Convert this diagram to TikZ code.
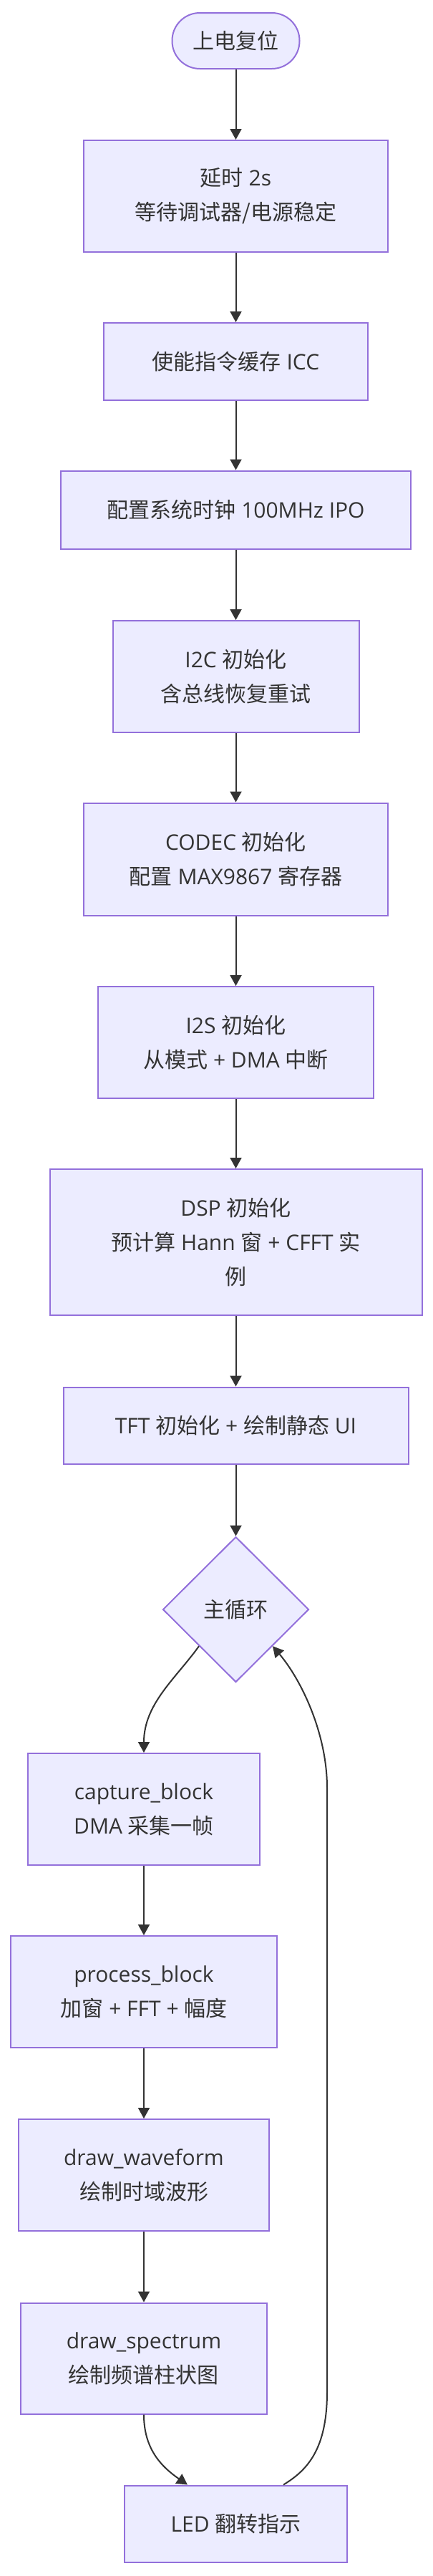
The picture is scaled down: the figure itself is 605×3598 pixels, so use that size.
\documentclass[tikz,border=0pt]{standalone}
\usepackage{fontspec}
\setmainfont{Open Sans}
\newfontfamily\cjk{Noto Sans CJK SC}
\usetikzlibrary{arrows.meta,shapes.geometric,calc}
\definecolor{nodefill}{HTML}{ECECFF}
\definecolor{nodeline}{HTML}{9370DB}
\definecolor{edgeline}{HTML}{333333}
\definecolor{txt}{HTML}{333333}
\begin{document}
\begin{tikzpicture}[x=0.75pt,y=-0.75pt,
  base/.style={draw=nodeline, fill=nodefill, line width=1.5pt, text=txt, align=center,
    inner sep=0pt, font=\fontsize{22.5pt}{36pt}\selectfont},
  procbox/.style 2 args={base, rectangle, minimum width=#1*0.75pt, minimum height=#2*0.75pt},
  pill/.style 2 args={base, rectangle, rounded corners=29pt, minimum width=#1*0.75pt, minimum height=#2*0.75pt},
  decision/.style 2 args={base, diamond, minimum width=#1*0.75pt, minimum height=#2*0.75pt},
  arr/.style={draw=edgeline, line width=1.5pt, -{Triangle[length=11.25pt,width=12pt]}}
]
\fill[white] (0,0) rectangle (605,3598);
\useasboundingbox (0,0) rectangle (605,3598);

\node[pill={178}{78}] (start) at (329.5,57) {{\cjk 上电复位}};
\node[procbox={425}{156}] (delay) at (329.5,274) {{\cjk 延时} 2s\\{\cjk 等待调试器/电源稳定}};
\node[procbox={369}{108}] (icc) at (329.5,505) {{\cjk 使能指令缓存} ICC};
\node[procbox={489}{109}] (clk) at (329.5,712) {{\cjk 配置系统时钟} 100MHz IPO};
\node[procbox={344}{156}] (i2c) at (329.5,945) {I2C {\cjk 初始化}\\{\cjk 含总线恢复重试}};
\node[procbox={425}{157}] (codec) at (329.5,1200) {CODEC {\cjk 初始化}\\{\cjk 配置} MAX9867 {\cjk 寄存器}};
\node[procbox={385}{156}] (i2s) at (329.5,1456) {I2S {\cjk 初始化}\\{\cjk 从模式} + DMA {\cjk 中断}};
\node[procbox={520}{204}] (dsp) at (329.5,1735) {DSP {\cjk 初始化}\\{\cjk 预计算} Hann {\cjk 窗} + CFFT {\cjk 实}\\{\cjk 例}};
\node[procbox={482}{107}] (tft) at (329.5,1991) {TFT {\cjk 初始化} + {\cjk 绘制静态} UI};
\node[decision={204}{203}] (loop) at (329.5,2248) {{\cjk 主循环}};
\node[procbox={324}{156}] (cap) at (201,2527) {capture\_block\\DMA {\cjk 采集一帧}};
\node[procbox={372}{156}] (proc) at (201,2782) {process\_block\\{\cjk 加窗} + FFT + {\cjk 幅度}};
\node[procbox={350}{156}] (wave) at (201,3038) {draw\_waveform\\{\cjk 绘制时域波形}};
\node[procbox={344}{155}] (spec) at (201,3294) {draw\_spectrum\\{\cjk 绘制频谱柱状图}};
\node[procbox={311}{107}] (led) at (329.5,3525) {LED {\cjk 翻转指示}};

\draw[arr] (start) -- (delay);
\draw[arr] (delay) -- (icc);
\draw[arr] (icc) -- (clk);
\draw[arr] (clk) -- (i2c);
\draw[arr] (i2c) -- (codec);
\draw[arr] (codec) -- (i2s);
\draw[arr] (i2s) -- (dsp);
\draw[arr] (dsp) -- (tft);
\draw[arr] (tft) -- (loop);
\draw[arr] ($(loop.west)!0.5!(loop.south)$) .. controls (245,2345) and (201,2380) .. (cap.north);
\draw[arr] (cap) -- (proc);
\draw[arr] (proc) -- (wave);
\draw[arr] (wave) -- (spec);
\draw[arr] (spec.south) .. controls (201,3420) and (225,3445) .. ($(led.north)+(-67.5,0)$);
\draw[arr] ($(led.north)+(66.5,0)$) .. controls (430,3450) and (457,3420) .. (457,3341)
  -- (457,2497) .. controls (457,2420) and (420,2345) .. ($(loop.east)!0.5!(loop.south)$);
\end{tikzpicture}
\end{document}
